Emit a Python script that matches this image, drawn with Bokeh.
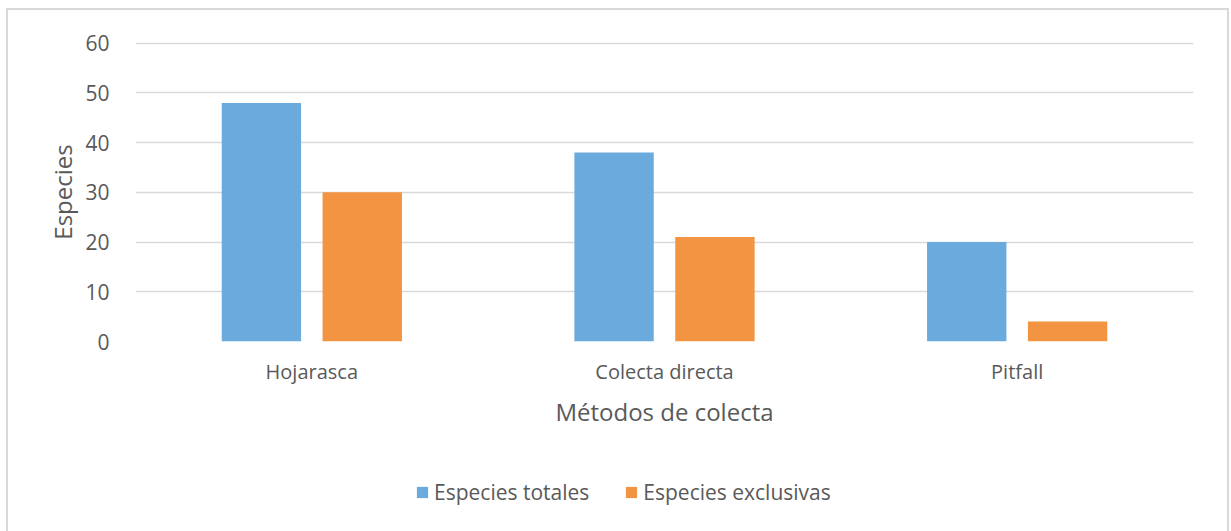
from bokeh.plotting import figure
from bokeh.layouts import column
from bokeh.models import ColumnDataSource, FactorRange, Range1d, FixedTicker, Legend, LegendItem
from bokeh.transform import dodge
from bokeh.embed import file_html
from bokeh.resources import INLINE

categories = ["Hojarasca", "Colecta directa", "Pitfall"]
especies_totales = [48, 38, 20]
especies_exclusivas = [30, 21, 4]
y_ticks = [0, 10, 20, 30, 40, 50, 60]

FONT = "Open Sans"
TXT = "#595959"
GRID = "#d9d9d9"
BLUE = "#6aaadc"
ORANGE = "#f29441"

src = ColumnDataSource(dict(cat=categories, tot=especies_totales, exc=especies_exclusivas))

# main chart
p = figure(x_range=FactorRange(factors=categories, range_padding=0),
           y_range=Range1d(0, 60.15),
           width=1219, height=450, output_backend="svg", toolbar_location=None,
           min_border_left=127, min_border_right=34, min_border_top=32, min_border_bottom=119)
p.outline_line_color = None

p.vbar(x=dodge("cat", -0.143, range=p.x_range), top="tot", width=0.225, source=src,
       fill_color=BLUE, line_color=None)
p.vbar(x=dodge("cat", 0.143, range=p.x_range), top="exc", width=0.225, source=src,
       fill_color=ORANGE, line_color=None)

p.xgrid.grid_line_color = None
p.ygrid.grid_line_color = GRID
p.ygrid.grid_line_width = 1.5
p.yaxis.ticker = FixedTicker(ticks=y_ticks)

for ax in (p.xaxis[0], p.yaxis[0]):
    ax.axis_line_color = None
    ax.major_tick_line_color = None
    ax.minor_tick_line_color = None
    ax.major_label_text_font = FONT
    ax.major_label_text_color = TXT
    ax.major_label_text_font_size = "20px"
    ax.axis_label_text_font = FONT
    ax.axis_label_text_color = TXT
    ax.axis_label_text_font_size = "24px"
    ax.axis_label_text_font_style = "normal"

p.yaxis.major_label_text_font_size = "21px"
p.xaxis.axis_label = "Métodos de colecta"
p.yaxis.axis_label = "Especies"
p.xaxis.major_label_standoff = 10
p.xaxis.axis_label_standoff = 7
p.yaxis.major_label_standoff = 20
p.yaxis.axis_label_standoff = 3

# legend strip (legend swatches come from hidden renderers of the same data)
pl = figure(x_range=FactorRange(factors=categories, range_padding=0),
            y_range=Range1d(0, 60),
            width=1219, height=71, output_backend="svg", toolbar_location=None,
            x_axis_type=None, y_axis_type=None,
            min_border_left=0, min_border_right=0, min_border_top=0, min_border_bottom=0)
pl.outline_line_color = None
pl.xgrid.grid_line_color = None
pl.ygrid.grid_line_color = None
l1 = pl.vbar(x="cat", top="tot", width=0.2, source=src, fill_color=BLUE, line_color=None, visible=False)
l2 = pl.vbar(x="cat", top="exc", width=0.2, source=src, fill_color=ORANGE, line_color=None, visible=False)

legend = Legend(items=[LegendItem(label="Especies totales", renderers=[l1]),
                       LegendItem(label="Especies exclusivas", renderers=[l2])],
                orientation="horizontal", location=(280, 25),
                label_text_font=FONT, label_text_color=TXT, label_text_font_size="21px",
                glyph_width=14, glyph_height=14, spacing=35, label_standoff=5, padding=0,
                border_line_color=None, background_fill_alpha=0, margin=0)
pl.add_layout(legend, "center")

layout = column(p, pl, spacing=0)
layout.styles = {"outline": "2px solid #d9d9d9", "transform": "translate(8px, 10px)"}

open("out.html", "w").write(file_html(layout, INLINE))
